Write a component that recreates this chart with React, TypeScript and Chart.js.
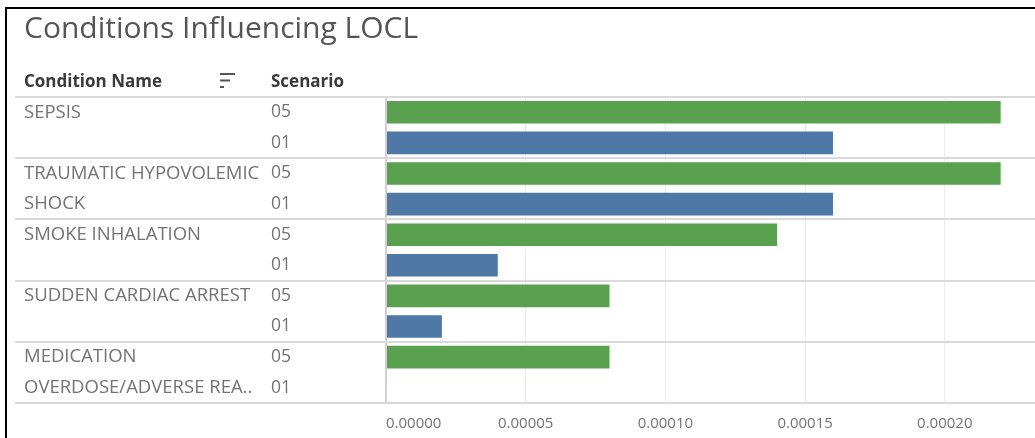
import React, { useEffect, useRef } from 'react';
import { Chart, registerables } from 'chart.js';

Chart.register(...registerables);

// ---- data ----
const TITLE = 'Conditions Influencing LOCL';
const HEADER_CONDITION = 'Condition Name';
const HEADER_SCENARIO = 'Scenario';
const conditionLines: string[][] = [
  ['SEPSIS'],
  ['TRAUMATIC HYPOVOLEMIC', 'SHOCK'],
  ['SMOKE INHALATION'],
  ['SUDDEN CARDIAC ARREST'],
  ['MEDICATION', 'OVERDOSE/ADVERSE REA..'],
];
const scenarios = ['05', '01'];
const scenario05: (number | null)[] = [0.00022, 0.00022, 0.00014, 0.00008, 0.00008];
const scenario01: (number | null)[] = [0.00016, 0.00016, 0.00004, 0.00002, null];
const xTickValues = [0, 0.00005, 0.0001, 0.00015, 0.0002];
const X_MAX = 0.000228;

// ---- style ----
const FONT = '"Open Sans", sans-serif';
const COLOR_05 = '#59a14f';
const COLOR_01 = '#4e79a7';
const TEXT_GRAY = '#737373';
const SEP_LEFT = 15;

const rowKeys: string[] = [];
const rowScenario: string[] = [];
const rowName: string[] = [];
const rowValues: (number | null)[] = [];
const rowColors: string[] = [];
conditionLines.forEach((lines, ci) => {
  scenarios.forEach((sc, si) => {
    rowKeys.push(lines.join(' ') + '|' + sc);
    rowScenario.push(sc);
    rowName.push(lines[si] ?? '');
    rowValues.push(si === 0 ? scenario05[ci] : scenario01[ci]);
    rowColors.push(si === 0 ? COLOR_05 : COLOR_01);
  });
});

const tableauDecor = {
  id: 'tableauDecor',
  afterDraw(chart: any) {
    const { ctx, chartArea, scales } = chart;
    const y = scales.y;
    const y2 = scales.y2;
    ctx.save();
    ctx.strokeStyle = '#d9d9d9';
    ctx.lineWidth = 2;
    for (let k = 0; k <= conditionLines.length; k++) {
      const py = Math.round(y.getPixelForValue(k * scenarios.length - 0.5));
      ctx.beginPath();
      ctx.moveTo(SEP_LEFT, py);
      ctx.lineTo(chart.width, py);
      ctx.stroke();
    }
    const hy = chartArea.top - 15;
    ctx.fillStyle = '#3a3a3a';
    ctx.font = `bold 17px ${FONT}`;
    ctx.textBaseline = 'middle';
    ctx.textAlign = 'left';
    ctx.fillText(HEADER_CONDITION, y2.left, hy);
    ctx.fillText(HEADER_SCENARIO, y.left, hy);
    // sort icon
    const ix = y2.left + 196;
    ctx.strokeStyle = '#555';
    ctx.lineWidth = 2;
    [15, 10, 4].forEach((w, i) => {
      const ly = hy - 8 + i * 6.5;
      ctx.beginPath();
      ctx.moveTo(ix, ly);
      ctx.lineTo(ix + w, ly);
      ctx.stroke();
    });
    ctx.restore();
  },
};

export default function App() {
  const ref = useRef<HTMLCanvasElement>(null);
  useEffect(() => {
    if (!ref.current) return;
    const chart = new Chart(ref.current, {
      type: 'bar',
      data: {
        labels: rowKeys,
        datasets: [
          {
            data: rowValues,
            backgroundColor: rowColors,
            barPercentage: 0.74,
            categoryPercentage: 1,
            borderWidth: 0,
          },
        ],
      },
      options: {
        indexAxis: 'y',
        animation: false,
        responsive: false,
        maintainAspectRatio: false,
        layout: { padding: { left: 24, right: 0, top: 0, bottom: 0 } },
        plugins: {
          legend: { display: false },
          tooltip: { enabled: false },
          title: {
            display: true,
            text: TITLE,
            align: 'start',
            color: '#555',
            font: { family: FONT, size: 30, weight: 'normal', lineHeight: 1.2 },
            padding: { top: 11, bottom: 50 },
          },
        },
        scales: {
          x: {
            type: 'linear',
            min: 0,
            max: X_MAX,
            position: 'bottom',
            afterBuildTicks: (s: any) => {
              s.ticks = [...xTickValues.map((v) => ({ value: v })), { value: X_MAX }];
            },
            afterFit: (s: any) => {
              s.height = 35;
            },
            ticks: {
              align: 'inner',
              padding: 12,
              color: TEXT_GRAY,
              font: { family: FONT, size: 15 },
              callback: (v: any) => (xTickValues.includes(v) ? Number(v).toFixed(5) : ''),
            },
            grid: {
              drawTicks: false,
              color: (c: any) =>
                c.tick && c.tick.value === X_MAX
                  ? 'rgba(0,0,0,0)'
                  : c.tick && c.tick.value === 0
                  ? '#d0d0d0'
                  : '#ececec',
              lineWidth: (c: any) => (c.tick && c.tick.value === 0 ? 2 : 1),
            },
            border: { display: false },
          },
          y: {
            type: 'category',
            position: 'left',
            weight: 0,
            afterFit: (s: any) => {
              s.width = 115;
            },
            ticks: {
              crossAlign: 'far',
              autoSkip: false,
              color: TEXT_GRAY,
              font: { family: FONT, size: 17.5 },
              callback: (_v: any, i: number) => rowScenario[i],
            },
            grid: { display: false },
            border: { display: false },
          },
          y2: {
            type: 'category',
            position: 'left',
            weight: 1,
            labels: rowName,
            offset: true,
            afterFit: (s: any) => {
              s.width = 247;
            },
            ticks: {
              crossAlign: 'far',
              autoSkip: false,
              color: TEXT_GRAY,
              font: { family: FONT, size: 18.5 },
            },
            grid: { display: false },
            border: { display: false },
          },
        },
      },
      plugins: [tableauDecor],
    } as any);
    return () => chart.destroy();
  }, []);

  return (
    <div style={{ position: 'fixed', left: 0, top: 0, width: 1035, height: 438, background: '#fff' }}>
      <div
        style={{
          position: 'absolute',
          left: 5,
          top: 7,
          width: 1040,
          height: 440,
          borderLeft: '2px solid #000',
          borderTop: '2px solid #000',
        }}
      />
      <canvas ref={ref} width={1035} height={438} style={{ position: 'absolute', left: 0, top: 0 }} />
    </div>
  );
}
